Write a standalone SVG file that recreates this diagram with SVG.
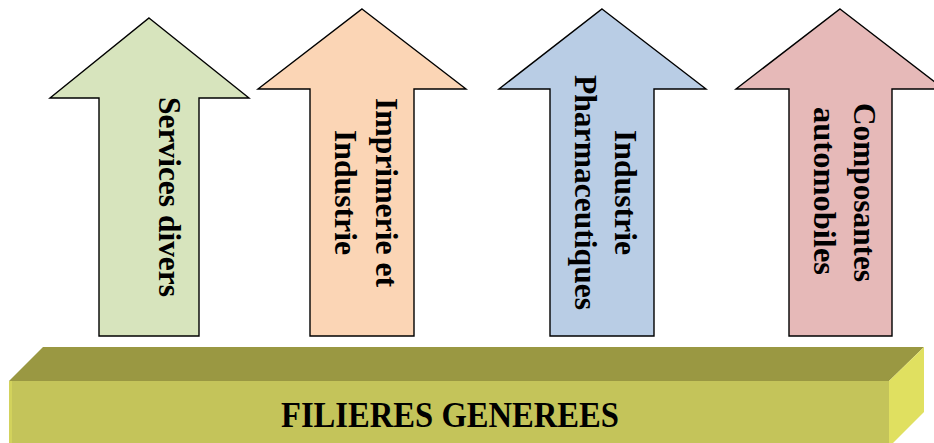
<svg xmlns="http://www.w3.org/2000/svg" width="934" height="443" viewBox="0 0 934 443">
<style>
.arrow{stroke:#000;stroke-width:1.4;stroke-linejoin:miter}
.lbl{font-family:"Liberation Serif","DejaVu Serif",serif;font-weight:bold;font-size:31px;fill:#000;text-anchor:middle}
.title{font-family:"Liberation Serif","DejaVu Serif",serif;font-weight:bold;font-size:36px;fill:#000;text-anchor:middle}
</style>
<rect width="934" height="443" fill="#fff"/>
<g id="base">
<polygon points="9,381 43,347 924,347 889,381" fill="#9A9842"/>
<polygon points="9,381 889,381 889,443 9,443" fill="#C4C45A"/>
<rect x="9" y="381" width="3" height="62" fill="#D2D25C"/>
<polygon points="889,381 924,347 924,412 893,443 889,443" fill="#E0E060"/>
<text class="title" x="450" y="427" textLength="338" lengthAdjust="spacingAndGlyphs">FILIERES GENEREES</text>
</g>
<g id="arrow1">
<polygon class="arrow" fill="#D7E4BD" points="149,18 249,98 199,98 199,336 99,336 99,98 50,98"/>
<text class="lbl" transform="translate(159,197) rotate(90)" textLength="200" lengthAdjust="spacingAndGlyphs">Services divers</text>
</g>
<g id="arrow2">
<polygon class="arrow" fill="#FBD5B5" points="362,9 466,89 414,89 414,336 310,336 310,89 258,89"/>
<text class="lbl" transform="translate(376,192.5) rotate(90)" textLength="189" lengthAdjust="spacingAndGlyphs">Imprimerie et</text>
<text class="lbl" transform="translate(335,192.5) rotate(90)" textLength="125" lengthAdjust="spacingAndGlyphs">Industrie</text>
</g>
<g id="arrow3">
<polygon class="arrow" fill="#B9CDE5" points="602,9 706,89 654,89 654,336 550,336 550,89 499,89"/>
<text class="lbl" transform="translate(615,192.5) rotate(90)" textLength="125" lengthAdjust="spacingAndGlyphs">Industrie</text>
<text class="lbl" transform="translate(575,192.5) rotate(90)" textLength="235" lengthAdjust="spacingAndGlyphs">Pharmaceutiques</text>
</g>
<g id="arrow4">
<polygon class="arrow" fill="#E6B9B8" points="840,9 944,89 892,89 892,336 789,336 789,89 736,89"/>
<text class="lbl" transform="translate(854,192.5) rotate(90)" textLength="179" lengthAdjust="spacingAndGlyphs">Composantes</text>
<text class="lbl" transform="translate(814,191) rotate(90)" textLength="168" lengthAdjust="spacingAndGlyphs">automobiles</text>
</g>
<g id="connectors"></g>
</svg>
